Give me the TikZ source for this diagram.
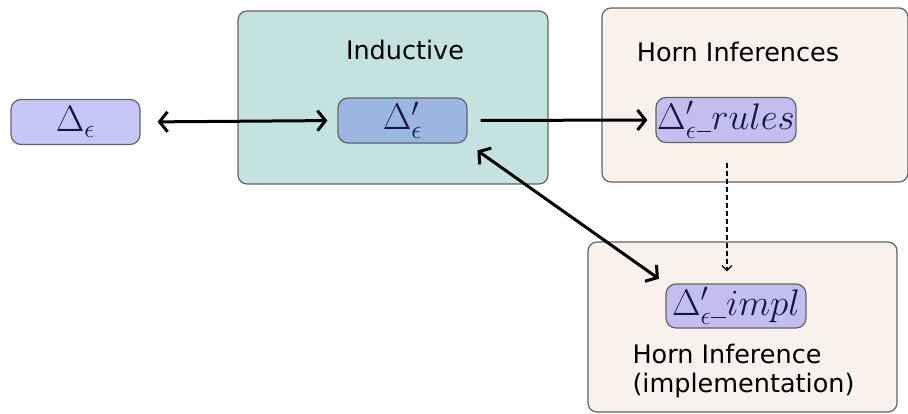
\documentclass[tikz,border=0pt]{standalone}
\usepackage{fix-cm}
\usepackage{fontspec}
\setmainfont{DejaVu Sans}
\usetikzlibrary{arrows.meta}

\definecolor{setfill}{RGB}{198,198,247}
\definecolor{primefill}{RGB}{155,182,224}
\definecolor{rulefill}{RGB}{196,190,240}
\definecolor{indfill}{RGB}{196,226,224}
\definecolor{hornfill}{RGB}{248,241,236}
\definecolor{boxline}{RGB}{100,100,100}
\definecolor{mathink}{RGB}{20,20,70}

% thin low bar between the name parts
\newcommand{\uscore}{\mathord{\rule[-0.08em]{0.4em}{0.035em}}}

\tikzset{
  group/.style={draw=boxline, line width=1.2pt, rounded corners=9pt},
  theory/.style={draw=boxline, line width=1.2pt, rounded corners=10pt,
    minimum height=45pt, inner sep=0pt, text=mathink,
    font=\fontsize{37}{44}\selectfont},
  link/.style={line width=3pt, -{Straight Barb[length=8pt,width=20pt]}},
  both link/.style={line width=3pt,
    {Straight Barb[length=8pt,width=20pt]}-{Straight Barb[length=8pt,width=20pt]}},
  label/.style={font=\fontsize{25.5}{29}\selectfont}
}

\begin{document}
\begin{tikzpicture}[x=1pt, y=-1pt]
  \useasboundingbox (0, 0) rectangle (908, 413);

  % surrounding groups
  \node[group, fill=indfill, minimum width=310pt, minimum height=173pt] (ind) at (393, 97.5) {};
  \node[group, fill=hornfill, minimum width=306pt, minimum height=174pt] (horn) at (755, 95) {};
  \node[group, fill=hornfill, minimum width=309pt, minimum height=170pt] (impl-box) at (742.5, 327) {};
  \node[label] (ind-title) at (405, 50) {Inductive};
  \node[label] (horn-title) at (738, 52) {Horn Inferences};
  \node[label, anchor=north west, align=left] (impl-title) at (629, 341)
    {Horn Inference\\(implementation)};

  % theories
  \node[theory, fill=setfill, minimum width=129pt] (delta) at (75.5, 122) {$\Delta_\epsilon$};
  \node[theory, fill=primefill, minimum width=129pt] (prime) at (402.5, 120.5) {$\Delta'_\epsilon$};
  \node[theory, fill=rulefill, minimum width=140pt] (rules) at (726, 120) {$\Delta'_\epsilon\uscore rules$};
  \node[theory, fill=rulefill, minimum width=140pt, minimum height=44pt] (impl) at (736, 306) {$\Delta'_\epsilon\uscore impl$};

  \draw[both link, shorten <=17pt, shorten >=10pt] (delta.east) -- (prime.west);
  \draw[link, shorten <=13pt, shorten >=8pt] (prime.east) -- (rules.west);
  \draw[both link, shorten <=12pt, shorten >=8pt] (prime.south east) -- (impl.north west);
  \draw[dash pattern=on 5pt off 3pt, line width=1.2pt, -{Straight Barb[length=5pt,width=10pt]},
    shorten <=20pt, shorten >=12pt] ([xshift=1pt]rules.south) -- ([xshift=1pt]rules.south |- impl.north);
\end{tikzpicture}
\end{document}
